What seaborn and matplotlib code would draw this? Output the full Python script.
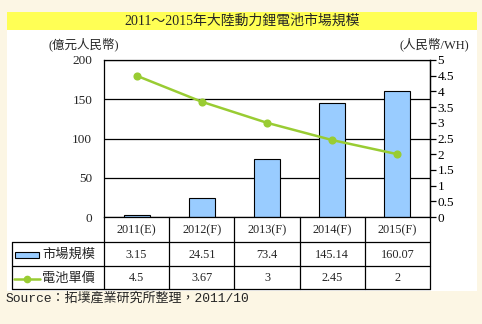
import matplotlib
matplotlib.use("Agg")
import matplotlib.pyplot as plt
import seaborn as sns
import pandas as pd
from matplotlib.lines import Line2D
from matplotlib.patches import Rectangle
from matplotlib.transforms import blended_transform_factory

# ---------------- data ----------------
title = "2011～2015年大陸動力鋰電池市場規模"
years = ["2011(E)", "2012(F)", "2013(F)", "2014(F)", "2015(F)"]
market = [3.15, 24.51, 73.4, 145.14, 160.07]
price = [4.5, 3.67, 3, 2.45, 2]
left_ticks = [0, 50, 100, 150, 200]
right_ticks = [0, 0.5, 1, 1.5, 2, 2.5, 3, 3.5, 4, 4.5, 5]
series_names = ["市場規模", "電池單價"]
left_unit = "(億元人民幣)"
right_unit = "(人民幣/WH)"
source = "Source：拓墣產業研究所整理，2011/10"

# ---------------- style ----------------
CREAM = "#fcf6e4"
BAR = "#99ccff"
LINE = "#99cc33"
YELLOW = "#ffff55"
CJK = "Noto Sans CJK TC"

sns.set_style("white")
plt.rcParams["font.family"] = ["Liberation Serif", CJK]

W, H = 482, 324
fig = plt.figure(figsize=(W / 100, H / 100), dpi=100, facecolor=CREAM)


def fx(x):
    return x / W


def fy(y):
    return 1 - y / H


# white panel and title band
fig.add_artist(Rectangle((fx(7), fy(291)), fx(477) - fx(7), fy(30) - fy(291),
                         transform=fig.transFigure, facecolor="white",
                         edgecolor="none", zorder=0))
fig.add_artist(Rectangle((fx(7), fy(30)), fx(477) - fx(7), fy(12) - fy(30),
                         transform=fig.transFigure, facecolor=YELLOW,
                         edgecolor="none", zorder=0))
fig.text(fx(242), fy(21.5), title, ha="center", va="center", fontsize=10)

X0, X1, Y0, Y1 = 104, 430, 217, 60
ax = fig.add_axes([fx(X0), fy(Y0), fx(X1) - fx(X0), fy(Y1) - fy(Y0)])

df = pd.DataFrame({"year": years, "market": market, "price": price})

sns.barplot(data=df, x="year", y="market", ax=ax, color=BAR, saturation=1,
            edgecolor="black", linewidth=0.8, width=0.4, zorder=2)
ax.set_ylim(0, 200)
ax.set_yticks(left_ticks)
ax.set_yticklabels([str(t) for t in left_ticks])
ax.yaxis.grid(True, color="black", linewidth=0.9)
ax.set_axisbelow(True)
ax.set_xlim(-0.5, 4.5)
ax.set_xlabel("")
ax.set_ylabel("")
ax.set_xticks(range(len(years)))
ax.set_xticklabels([])
ax.tick_params(axis="x", length=0)
ax.tick_params(axis="y", length=0, pad=8.5, labelsize=9.5)
for s in ax.spines.values():
    s.set_color("black")
    s.set_linewidth(0.9)

ax2 = ax.twinx()
sns.pointplot(data=df, x="year", y="price", ax=ax2, color=LINE,
              markers="o", markersize=4.5, linewidth=1.8)
ax2.set_ylim(0, 5)
ax2.set_yticks(right_ticks)
ax2.set_yticklabels([f"{t:g}" for t in right_ticks])
ax2.set_xlim(-0.5, 4.5)
ax2.set_xlabel("")
ax2.set_ylabel("")
ax2.set_xticks(range(len(years)))
ax2.set_xticklabels([])
ax2.tick_params(axis="y", length=4, width=0.9, pad=1.5, labelsize=9.5,
                colors="black")
ax2.tick_params(axis="x", length=0)
for k, s in ax2.spines.items():
    s.set_visible(k == "right")
    s.set_color("black")
    s.set_linewidth(0.9)

# unit labels
fig.text(fx(84), fy(44), left_unit, ha="center", va="center", fontsize=9)
fig.text(fx(434), fy(44), right_unit, ha="center", va="center", fontsize=9)

# ---------------- data table ----------------
trans = blended_transform_factory(ax.transData, fig.transFigure)
R1, R2, R3 = 242, 266, 289

for k in range(len(years) + 1):
    fig.add_artist(Line2D([k - 0.5, k - 0.5], [fy(Y0), fy(R3)],
                          transform=trans, color="black", linewidth=0.9))
fig.add_artist(Line2D([fx(12), fx(12)], [fy(R1), fy(R3)],
                      transform=fig.transFigure, color="black", linewidth=0.9))
for yy in (R1, R2, R3):
    fig.add_artist(Line2D([fx(12), fx(X1)], [fy(yy), fy(yy)],
                          transform=fig.transFigure, color="black",
                          linewidth=0.9))

for i, yr in enumerate(years):
    ax.text(i, fy(230.5), yr, transform=trans, ha="center", va="center",
            fontsize=8.8)
    ax.text(i, fy(254.5), f"{market[i]:g}", transform=trans, ha="center",
            va="center", fontsize=8.8)
    ax.text(i, fy(278), f"{price[i]:g}", transform=trans, ha="center",
            va="center", fontsize=8.8)

# legend keys in table
fig.add_artist(Rectangle((fx(15), fy(257.5)), fx(39) - fx(15), fy(251.5) - fy(257.5),
                         transform=fig.transFigure, facecolor=BAR,
                         edgecolor="black", linewidth=0.8))
fig.text(fx(42), fy(254.5), series_names[0], ha="left", va="center",
         fontsize=9.5, family=CJK)
fig.add_artist(Line2D([fx(14), fx(40)], [fy(278.5), fy(278.5)],
                      transform=fig.transFigure, color=LINE, linewidth=1.8))
fig.add_artist(Line2D([fx(27)], [fy(278.5)], transform=fig.transFigure,
                      color=LINE, marker="o", markersize=4.5, linestyle="none"))
fig.text(fx(42), fy(278), series_names[1], ha="left", va="center",
         fontsize=9.5, family=CJK)

# source
fig.text(fx(6), fy(298), source, ha="left", va="center", fontsize=9.4,
         family=["Liberation Mono", CJK])

fig.savefig("out.png", dpi=100, facecolor=CREAM)
